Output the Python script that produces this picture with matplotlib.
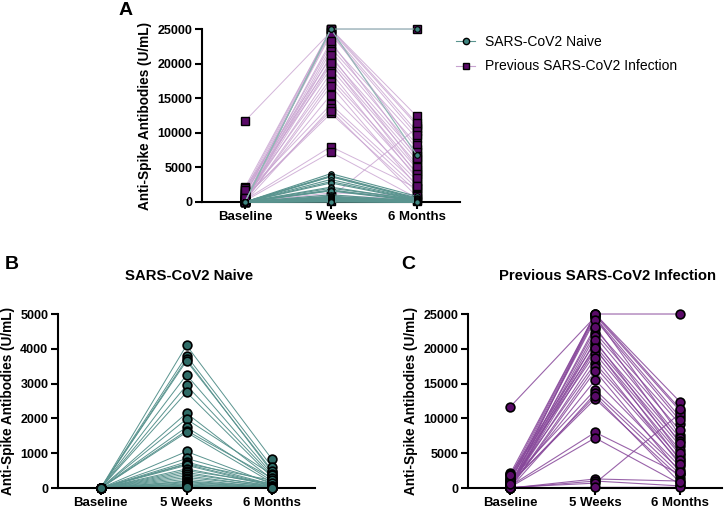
import matplotlib
matplotlib.use('Agg')
import matplotlib.pyplot as plt
from matplotlib.lines import Line2D

plt.rcParams['font.family'] = ['Liberation Sans', 'DejaVu Sans']

timepoints = ['Baseline', '5 Weeks', '6 Months']

# previous infection subjects: baseline, 5 weeks, 6 months (U/mL)
prev_base = [11700, 2100, 1700, 1300, 900, 600, 300, 100, 2000, 500, 200, 1500, 800, 50, 400, 1100,
             0, 700, 300, 150, 0, 0, 100, 0, 200, 1000, 500, 0, 1800, 250, 50, 600]
prev_5w = [24600, 25000, 25000, 24800, 24500, 22800, 22300, 21800, 20900, 20400, 19900, 19300, 17900, 17400, 15500, 14100,
           13600, 12800, 8000, 7200, 1300, 1000, 700, 100, 25000, 24200, 23200, 21200, 20100, 18700, 16800, 13200]
prev_6m = [7600, 25000, 12400, 11100, 10200, 9200, 8300, 7200, 6700, 6100, 5500, 4800, 4300, 3700, 3100, 2600,
           2000, 1500, 2000, 600, 1000, 300, 10700, 100, 11400, 9700, 6400, 5000, 4000, 3400, 2300, 800]

# naive subjects
naive_base = [0, 0, 0, 0, 0, 0, 0, 0, 0, 0, 0, 0, 0, 0, 0, 0, 0,
              0, 0, 0, 0, 0, 0, 0, 0, 0, 0, 0, 0, 0, 0, 0, 0, 0]
naive_5w = [4100, 3800, 3700, 3650, 3250, 2950, 2750, 2150, 1980, 1750, 1650, 1600, 1050, 850, 750, 700, 680,
            650, 550, 500, 450, 400, 350, 300, 250, 200, 180, 150, 120, 100, 80, 50, 30, 20]
naive_6m = [820, 600, 450, 500, 400, 350, 300, 250, 380, 200, 280, 150, 120, 160, 100, 220, 90,
            60, 80, 130, 40, 70, 30, 50, 20, 35, 10, 25, 15, 5, 8, 0, 12, 3]

# naive subjects above the panel B range (only visible in panel A)
naive_hi_base = [0, 0]
naive_hi_5w = [25000, 25000]
naive_hi_6m = [25000, 6800]

TEAL_LINE = '#5a948f'
TEAL_FACE = '#2f6c67'
PURP_LINE = '#87479a'
PURP_LIGHT = '#c8a2d0'
PURP_FACE = '#5a0a68'

x = [0, 1, 2]


def style_axis(ax, ymax, step):
    ax.set_xlim(-0.5, 2.5)
    ax.set_ylim(0, ymax)
    ax.set_yticks(range(0, ymax + 1, step))
    ax.set_xticks(x)
    ax.set_xticklabels(timepoints)
    for s in ['top', 'right']:
        ax.spines[s].set_visible(False)
    for s in ['left', 'bottom']:
        ax.spines[s].set_linewidth(1.5)
    ax.tick_params(width=1.5, length=5)
    ax.tick_params(axis='y', labelsize=9, pad=2)
    ax.tick_params(axis='x', labelsize=9.5, pad=1.5)
    for lab in ax.get_xticklabels() + ax.get_yticklabels():
        lab.set_fontweight('bold')
    ax.set_ylabel('Anti-Spike Antibodies (U/mL)', fontsize=9.8, fontweight='bold', labelpad=4)


def draw_group(ax, base, w5, m6, lcolor, lw, alpha, marker, ms, face, mew, zo):
    for b, w, m in zip(base, w5, m6):
        ax.plot(x, [b, w, m], color=lcolor, lw=lw, alpha=alpha, zorder=zo, clip_on=False)
    for b, w, m in zip(base, w5, m6):
        ax.plot(x, [b, w, m], ls='none', marker=marker, ms=ms, mfc=face, mec='black',
                mew=mew, zorder=zo + 1, clip_on=False)


fig = plt.figure(figsize=(7.28, 5.11), dpi=100)

# panel A
axA = fig.add_axes([0.2775, 0.6047, 0.354, 0.3385])
draw_group(axA, prev_base, prev_5w, prev_6m, PURP_LIGHT, 0.7, 0.8, 's', 5.5, PURP_FACE, 1.0, 2)
draw_group(axA, naive_base, naive_5w, naive_6m, TEAL_LINE, 0.8, 1.0, 'o', 4, '#3f8580', 0.8, 4)
draw_group(axA, naive_hi_base, naive_hi_5w, naive_hi_6m, '#8fb8b4', 0.8, 1.0, 'o', 4, '#3f8580', 0.8, 4)
style_axis(axA, 25000, 5000)

handles = [
    Line2D([0], [0], color=TEAL_LINE, lw=0.8, marker='o', ms=4.5, mfc='#3f8580', mec='black'),
    Line2D([0], [0], color=PURP_LIGHT, lw=0.8, marker='s', ms=5, mfc=PURP_FACE, mec='black'),
]
axA.legend(handles, ['SARS-CoV2 Naive', 'Previous SARS-CoV2 Infection'], loc='upper left',
           bbox_to_anchor=(0.985, 0.965), frameon=False, fontsize=10,
           handlelength=1.4, handletextpad=0.7, labelspacing=0.75, borderaxespad=0, borderpad=0)

# panel B
axB = fig.add_axes([0.0797, 0.045, 0.353, 0.3405])
draw_group(axB, naive_base, naive_5w, naive_6m, TEAL_LINE, 0.7, 1.0, 'o', 6.3, TEAL_FACE, 1.2, 2)
style_axis(axB, 5000, 1000)
axB.text(0.51, 1.22, 'SARS-CoV2 Naive', transform=axB.transAxes, ha='center', va='center',
         fontsize=10.7, fontweight='bold')

# panel C
axC = fig.add_axes([0.643, 0.045, 0.349, 0.3405])
draw_group(axC, prev_base, prev_5w, prev_6m, PURP_LINE, 0.8, 0.85, 'o', 6.3, PURP_FACE, 1.2, 2)
style_axis(axC, 25000, 5000)
axC.text(0.547, 1.22, 'Previous SARS-CoV2 Infection', transform=axC.transAxes, ha='center',
         va='center', fontsize=10.7, fontweight='bold')

fig.text(0.172, 0.98, 'A', fontsize=14, fontweight='bold', ha='center', va='center')
fig.text(0.016, 0.483, 'B', fontsize=14, fontweight='bold', ha='center', va='center')
fig.text(0.561, 0.483, 'C', fontsize=14, fontweight='bold', ha='center', va='center')

fig.savefig('out.png', dpi=100)
